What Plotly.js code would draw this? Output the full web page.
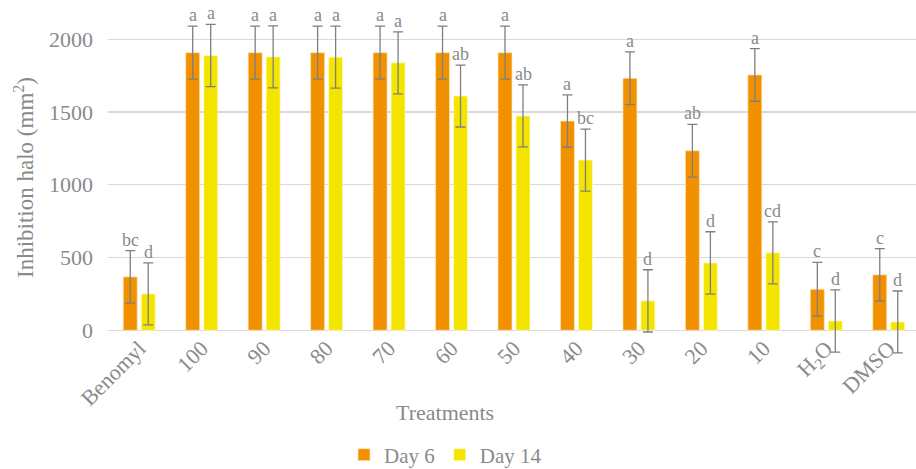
<!DOCTYPE html>
<html>
<head>
<meta charset="utf-8">
<script src="https://cdn.plot.ly/plotly-3.0.1.min.js"></script>
<style>
html,body{margin:0;padding:0;overflow:hidden;background:#fff;}
#chart{width:921px;height:469px;}
</style>
</head>
<body>
<div id="chart"></div>
<script>
const categories = ['Benomyl','100','90','80','70','60','50','40','30','20','10','H2O','DMSO'];
const tickLabels = ['Benomyl','100','90','80','70','60','50','40','30','20','10','H<sub>2</sub>O','DMSO'];
const day6 = [367,1908,1908,1908,1908,1908,1908,1438,1732,1234,1755,282,381];
const day6Err = [181,182,182,182,182,182,182,180,181,181,181,184,180];
const day14 = [250,1888,1879,1877,1838,1610,1473,1170,202,463,532,64,57];
const day14Err = [213,214,213,213,213,213,213,213,214,214,213,214,213];
const letters6 = ['bc','a','a','a','a','a','a','a','a','ab','a','c','c'];
const letters14 = ['d','a','a','a','a','ab','ab','bc','d','d','cd','d','d'];
const yTicks = [0,500,1000,1500,2000];

const gray = '#8a8a8a';
const font = 'Liberation Serif, Times New Roman, serif';

const errStyle = {type:'data', visible:true, color:'#7f7f7f', thickness:1.3, width:5};

const traces = [
  {type:'bar', name:'Day 6', x:categories, y:day6,
   error_y:Object.assign({array:day6Err}, errStyle),
   marker:{color:'#F29100', line:{color:'rgba(255,230,190,0.9)', width:0.8}},
   cliponaxis:false, hoverinfo:'y'},
  {type:'bar', name:'Day 14', x:categories, y:day14,
   error_y:Object.assign({array:day14Err}, errStyle),
   marker:{color:'#F4E500', line:{color:'rgba(255,250,200,0.9)', width:0.8}},
   cliponaxis:false, hoverinfo:'y'}
];

// y range extended so error bars and letters beyond 0..2000 are visible
const yMin = -170, yMax = 2270;

const annotations = [];
categories.forEach((c,i)=>{
  annotations.push({x:i, y:day6[i]+day6Err[i], xref:'x', yref:'y', text:letters6[i],
    showarrow:false, yanchor:'bottom', xshift:-9, yshift:-1, font:{family:font,size:18,color:gray}});
  annotations.push({x:i, y:day14[i]+day14Err[i], xref:'x', yref:'y', text:letters14[i],
    showarrow:false, yanchor:'bottom', xshift:9, yshift:-1, font:{family:font,size:18,color:gray}});
});
annotations.push({text:'Treatments', xref:'paper', yref:'paper', x:0.415, y:-0.162,
  xanchor:'center', yanchor:'middle', showarrow:false, font:{family:font,size:22,color:gray}});

const layout = {
  width:921, height:469,
  margin:{l:108, r:1, t:0.3, b:114.3},
  paper_bgcolor:'#fff', plot_bgcolor:'#fff',
  font:{family:font, color:gray, size:22},
  barmode:'group', bargap:0.424, bargroupgap:0.222,
  showlegend:true,
  legend:{orientation:'h', xref:'container', yref:'container', x:344/921, y:1-455/469,
          xanchor:'left', yanchor:'middle', font:{family:font,size:21,color:gray},
          itemwidth:30, tracegroupgap:0},
  xaxis:{type:'category', range:[-0.5,12.5], tickvals:categories, ticktext:tickLabels, tickangle:-45,
         anchor:'free', position:(0-yMin)/(yMax-yMin),
         showgrid:false, zeroline:false, showline:false, ticks:'',
         tickfont:{family:font,size:22,color:gray}},
  yaxis:{range:[yMin,yMax], tickvals:yTicks, showgrid:true, gridcolor:'#d9d9d9', gridwidth:1.2,
         zeroline:false, showline:false, ticks:'', ticklabelstandoff:14,
         tickfont:{family:font,size:22,color:gray},
         title:{text:'Inhibition halo (mm<sup>2</sup>)', standoff:8, font:{family:font,size:23,color:gray}}},
  annotations:annotations
};

Plotly.newPlot('chart', traces, layout, {displayModeBar:false, staticPlot:true});
</script>
</body>
</html>
